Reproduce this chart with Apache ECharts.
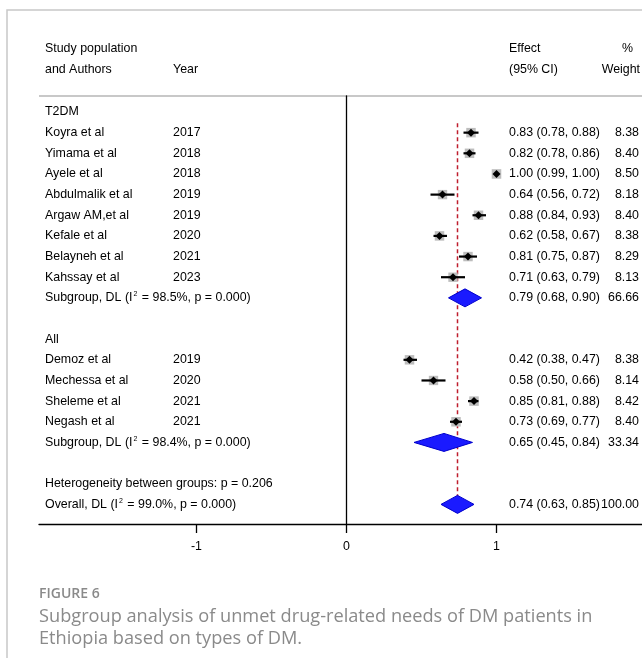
<!DOCTYPE html>
<html>
<head>
<meta charset="utf-8">
<script src="https://cdn.jsdelivr.net/npm/echarts@6/dist/echarts.min.js"></script>
<style>
  html, body { margin: 0; padding: 0; background: #ffffff; }
  #chart { width: 642px; height: 658px; }
</style>
</head>
<body>
<div id="chart"></div>
<script>
// Forest plot rows, top to bottom (row index = position on the y axis)
const rowKinds = ['group', 'study', 'study', 'study', 'study', 'study', 'study', 'study', 'study', 'pooled',
                  'blank', 'group', 'study', 'study', 'study', 'study', 'pooled',
                  'blank', 'note', 'pooled'];
const rowLabels = ['T2DM', 'Koyra et al', 'Yimama et al', 'Ayele et al', 'Abdulmalik et al', 'Argaw AM,et al',
                   'Kefale et al', 'Belayneh et al', 'Kahssay et al', 'Subgroup, DL (I^2 = 98.5%, p = 0.000)',
                   '', 'All', 'Demoz et al', 'Mechessa et al', 'Sheleme et al', 'Negash et al',
                   'Subgroup, DL (I^2 = 98.4%, p = 0.000)',
                   '', 'Heterogeneity between groups: p = 0.206', 'Overall, DL (I^2 = 99.0%, p = 0.000)'];
const rowYears = ['', '2017', '2018', '2018', '2019', '2019', '2020', '2021', '2023', '',
                  '', '', '2019', '2020', '2021', '2021', '',
                  '', '', ''];
const estimates = [null, 0.83, 0.82, 1.00, 0.64, 0.88, 0.62, 0.81, 0.71, 0.79,
                   null, null, 0.42, 0.58, 0.85, 0.73, 0.65,
                   null, null, 0.74];
const lowers    = [null, 0.78, 0.78, 0.99, 0.56, 0.84, 0.58, 0.75, 0.63, 0.68,
                   null, null, 0.38, 0.50, 0.81, 0.69, 0.45,
                   null, null, 0.63];
const uppers    = [null, 0.88, 0.86, 1.00, 0.72, 0.93, 0.67, 0.87, 0.79, 0.90,
                   null, null, 0.47, 0.66, 0.88, 0.77, 0.84,
                   null, null, 0.85];
const weights   = [null, 8.38, 8.40, 8.50, 8.18, 8.40, 8.38, 8.29, 8.13, 66.66,
                   null, null, 8.38, 8.14, 8.42, 8.40, 33.34,
                   null, null, 100.00];
const axisTicks = [-1, 0, 1];
const overallRow = rowKinds.lastIndexOf('pooled');

const FONT = '"Liberation Sans", Arial, Helvetica, sans-serif';
const FS = 12.4;
const CAPTION_FONT = '"Open Sans", "Noto Sans", sans-serif';

const studyData = [];
const pooledData = [];
const textData = [];
rowKinds.forEach(function (kind, i) {
  textData.push([0, i]);
  if (kind === 'study') studyData.push([estimates[i], i, lowers[i], uppers[i], weights[i]]);
  if (kind === 'pooled') pooledData.push([estimates[i], i, lowers[i], uppers[i], weights[i]]);
});
const firstStudyRow = rowKinds.indexOf('study');

function labelText(raw) {
  // "I^2" is drawn with a raised, smaller 2
  if (raw.indexOf('^2') < 0) return '{t|' + raw + '}';
  const parts = raw.split('^2');
  return '{t|' + parts[0] + '}{s|2}{t|' + parts[1] + '}';
}

const chart = echarts.init(document.getElementById('chart'), null, { renderer: 'canvas' });

chart.setOption({
  animation: false,
  backgroundColor: '#ffffff',
  grid: { left: 39, right: 0, top: 96, bottom: 134, containLabel: false },
  xAxis: {
    type: 'value',
    min: -2.05,
    max: 1.97,
    axisLine: { show: true, onZero: false, lineStyle: { color: '#000000', width: 1.3 } },
    axisTick: { show: true, inside: false, length: 9, customValues: axisTicks, lineStyle: { color: '#000000', width: 1.3 } },
    axisLabel: { show: true, customValues: axisTicks, margin: 17, color: '#000000', fontSize: FS, fontFamily: FONT },
    splitLine: { show: false }
  },
  yAxis: {
    type: 'value',
    inverse: true,
    min: -0.775,
    max: 19.95,
    axisLine: { show: true, onZero: true, lineStyle: { color: '#000000', width: 1.3 } },
    axisTick: { show: false },
    axisLabel: { show: false },
    splitLine: { show: false }
  },
  graphic: [
    { type: 'polyline', silent: true, shape: { points: [[7, 658], [7, 10], [642, 10]] },
      style: { stroke: '#c8c8c8', lineWidth: 1.5, fill: null } },
    { type: 'line', silent: true, shape: { x1: 39, y1: 96, x2: 642, y2: 96 },
      style: { stroke: '#c8c8c8', lineWidth: 2 } },
    { type: 'text', left: 45, top: 43, style: { text: 'Study population', fill: '#000', font: FS + 'px ' + FONT } },
    { type: 'text', left: 45, top: 64, style: { text: 'and Authors', fill: '#000', font: FS + 'px ' + FONT } },
    { type: 'text', left: 173, top: 64, style: { text: 'Year', fill: '#000', font: FS + 'px ' + FONT } },
    { type: 'text', left: 509, top: 43, style: { text: 'Effect', fill: '#000', font: FS + 'px ' + FONT } },
    { type: 'text', left: 509, top: 64, style: { text: '(95% CI)', fill: '#000', font: FS + 'px ' + FONT } },
    { type: 'text', right: 9, top: 43, style: { text: '%', fill: '#000', font: FS + 'px ' + FONT } },
    { type: 'text', right: 2, top: 64, style: { text: 'Weight', fill: '#000', font: FS + 'px ' + FONT } },
    { type: 'text', left: 39, top: 587, style: { text: 'FIGURE 6', fill: '#8a8a8a', font: '600 14px ' + CAPTION_FONT } },
    { type: 'text', left: 39, top: 608, style: { text: 'Subgroup analysis of unmet drug-related needs of DM patients in', fill: '#8a8a8a', font: '18.2px ' + CAPTION_FONT } },
    { type: 'text', left: 39, top: 630, style: { text: 'Ethiopia based on types of DM.', fill: '#8a8a8a', font: '18.2px ' + CAPTION_FONT } }
  ],
  series: [
    {
      // line of the overall pooled estimate
      type: 'custom',
      clip: false,
      z: 2,
      data: [[estimates[overallRow], firstStudyRow - 0.45, overallRow + 0.4]],
      renderItem: function (params, api) {
        const p1 = api.coord([api.value(0), api.value(1)]);
        const p2 = api.coord([api.value(0), api.value(2)]);
        return {
          type: 'line',
          shape: { x1: p1[0], y1: p1[1], x2: p2[0], y2: p2[1] },
          style: { stroke: '#bf1e2e', lineWidth: 1.5, lineDash: [4, 3] }
        };
      }
    },
    {
      // individual studies: weight box, confidence interval, point estimate
      type: 'custom',
      clip: false,
      z: 3,
      data: studyData,
      renderItem: function (params, api) {
        const c = api.coord([api.value(0), api.value(1)]);
        const lo = api.coord([api.value(2), api.value(1)]);
        const hi = api.coord([api.value(3), api.value(1)]);
        const s = 9.5 * Math.sqrt(api.value(4) / 8.4);
        const d = 4;
        return {
          type: 'group',
          children: [
            { type: 'rect', shape: { x: c[0] - s / 2, y: c[1] - s / 2, width: s, height: s }, style: { fill: '#bdbdbd' } },
            { type: 'line', shape: { x1: lo[0], y1: lo[1], x2: hi[0], y2: hi[1] }, style: { stroke: '#000000', lineWidth: 2.2 } },
            { type: 'polygon', shape: { points: [[c[0] - d, c[1]], [c[0], c[1] - d], [c[0] + d, c[1]], [c[0], c[1] + d]] }, style: { fill: '#000000' } }
          ]
        };
      }
    },
    {
      // pooled estimates as diamonds
      type: 'custom',
      clip: false,
      z: 4,
      data: pooledData,
      renderItem: function (params, api) {
        const c = api.coord([api.value(0), api.value(1)]);
        const lo = api.coord([api.value(2), api.value(1)]);
        const hi = api.coord([api.value(3), api.value(1)]);
        const h = 9;
        return {
          type: 'polygon',
          shape: { points: [[lo[0], c[1]], [c[0], c[1] - h], [hi[0], c[1]], [c[0], c[1] + h]] },
          style: { fill: '#1a1aff', stroke: '#0000cc', lineWidth: 1 }
        };
      }
    },
    {
      // text columns: label, year, effect (95% CI), weight
      type: 'custom',
      clip: false,
      z: 5,
      data: textData,
      renderItem: function (params, api) {
        const i = api.value(1);
        const y = api.coord([0, i])[1];
        const children = [];
        const base = { fill: '#000000', fontSize: FS, fontFamily: FONT, textVerticalAlign: 'middle' };
        if (rowLabels[i]) {
          children.push({
            type: 'text',
            style: Object.assign({}, base, {
              x: 45, y: y, textAlign: 'left',
              text: labelText(rowLabels[i]),
              rich: {
                t: { fontSize: FS, fontFamily: FONT, fill: '#000000', lineHeight: 14 },
                s: { fontSize: 7, fontFamily: FONT, fill: '#000000', verticalAlign: 'top', lineHeight: 8, padding: [0, 1, 0, 1] }
              }
            })
          });
        }
        if (rowYears[i]) {
          children.push({ type: 'text', style: Object.assign({}, base, { x: 173, y: y, textAlign: 'left', text: rowYears[i] }) });
        }
        if (estimates[i] !== null) {
          const eff = estimates[i].toFixed(2) + ' (' + lowers[i].toFixed(2) + ', ' + uppers[i].toFixed(2) + ')';
          children.push({ type: 'text', style: Object.assign({}, base, { x: 509, y: y, textAlign: 'left', text: eff }) });
          children.push({ type: 'text', style: Object.assign({}, base, { x: 639, y: y, textAlign: 'right', text: weights[i].toFixed(2) }) });
        }
        return { type: 'group', children: children };
      }
    }
  ]
});
</script>
</body>
</html>
